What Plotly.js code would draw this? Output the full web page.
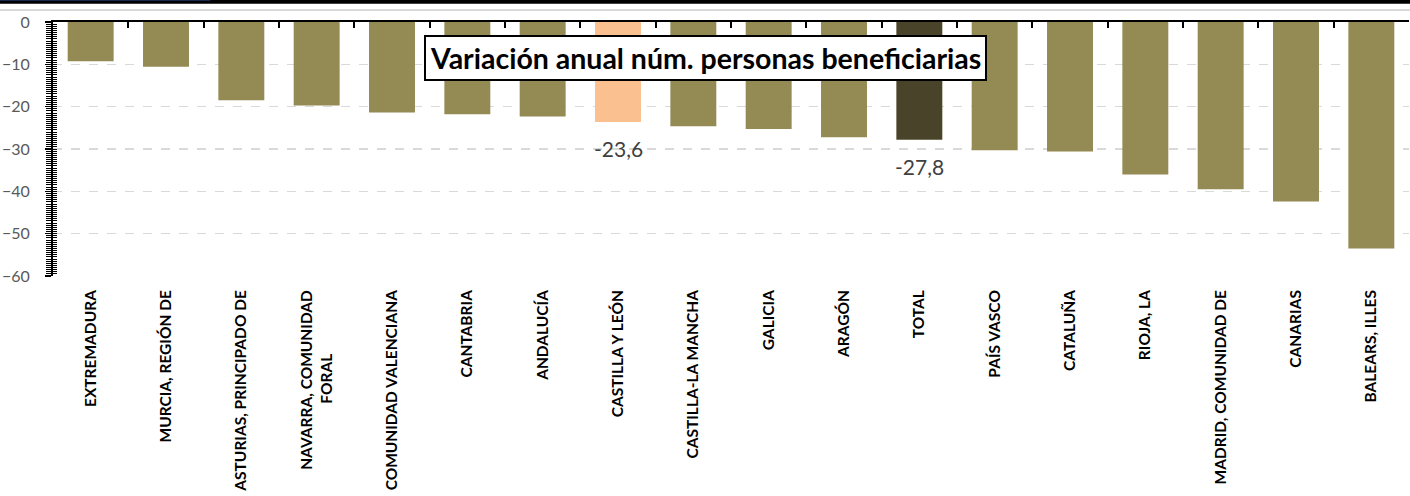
<!DOCTYPE html>
<html>
<head>
<meta charset="utf-8">
<script src="https://cdn.plot.ly/plotly-3.0.1.min.js"></script>
<style>
  html, body { margin: 0; padding: 0; background: #ffffff; }
  #chart { width: 1410px; height: 496px; }
</style>
</head>
<body>
<div id="chart"></div>
<script>
const categories = [
  "EXTREMADURA", "MURCIA, REGIÓN DE", "ASTURIAS, PRINCIPADO DE",
  "NAVARRA, COMUNIDAD<br>FORAL" + "&nbsp;".repeat(17), "COMUNIDAD VALENCIANA", "CANTABRIA",
  "ANDALUCÍA", "CASTILLA Y LEÓN", "CASTILLA-LA MANCHA", "GALICIA",
  "ARAGÓN", "TOTAL", "PAÍS VASCO", "CATALUÑA", "RIOJA, LA",
  "MADRID, COMUNIDAD DE", "CANARIAS", "BALEARS, ILLES"
];
const variation = [
  -9.3, -10.6, -18.5, -19.7, -21.4, -21.8,
  -22.3, -23.6, -24.6, -25.3,
  -27.2, -27.8, -30.3, -30.6, -36.0,
  -39.5, -42.4, -53.5
];
const labelledCategories = ["CASTILLA Y LEÓN", "TOTAL"];
const yTicks = [0, -10, -20, -30, -40, -50, -60];

const OLIVE = "#948A54", PEACH = "#FAC090", DARK = "#494429";
const barColors = categories.map(c =>
  c === "TOTAL" ? DARK : (c === "CASTILLA Y LEÓN" ? PEACH : OLIVE));

const annotations = categories
  .map((c, i) => ({c, i}))
  .filter(o => labelledCategories.includes(o.c))
  .map(o => ({
    x: o.c, y: variation[o.i], xref: "x", yref: "y",
    text: variation[o.i].toFixed(1).replace(".", ","),
    showarrow: false, yanchor: "top", yshift: -12,
    font: {family: "Lato, 'Open Sans', sans-serif", size: 21, color: "#404040"}
  }));

annotations.push({
  xref: "paper", yref: "paper", x: 0.481, y: 0.86,
  text: "<b>Variación anual núm. personas beneficiarias</b>",
  showarrow: false, xanchor: "center", yanchor: "middle",
  bgcolor: "#ffffff", bordercolor: "#000000", borderwidth: 2, borderpad: 4,
  font: {family: "Lato, 'Open Sans', sans-serif", size: 28.5, color: "#000000"}
});

const trace = {
  type: "bar", x: categories, y: variation,
  marker: {color: barColors, line: {width: 0}},
  hoverinfo: "x+y", showlegend: false
};
const ghost = {
  type: "bar", x: categories, y: variation, xaxis: "x2", yaxis: "y2",
  marker: {color: "rgba(0,0,0,0)"}, hoverinfo: "skip", showlegend: false
};

const layout = {
  width: 1410, height: 496,
  margin: {l: 53, r: 1, t: 22, b: 220, autoexpand: false},
  paper_bgcolor: "#ffffff", plot_bgcolor: "#ffffff",
  bargap: 0.39,
  xaxis: {
    type: "category", automargin: false,
    tickangle: -90, ticks: "", showline: false, showgrid: false,
    ticklabelstandoff: 10,
    tickfont: {family: "Lato, 'Open Sans', sans-serif", size: 15.5, color: "#000000", weight: "bold"}
  },
  xaxis2: {
    type: "category", overlaying: "x", matches: "x", side: "top", anchor: "y2",
    showticklabels: false, ticks: "inside", ticklen: 6, tickwidth: 2, tickcolor: "#000000",
    tickson: "boundaries", showline: true, linecolor: "#000000", linewidth: 2, showgrid: false
  },
  yaxis: {
    range: [-60, 0], tickvals: yTicks, automargin: false,
    ticks: "outside", ticklen: 6, tickwidth: 1.5, tickcolor: "#000000",
    minor: {dtick: 0.5, ticks: "outside", ticklen: 5, tickwidth: 1, tickcolor: "#000000", showgrid: false},
    showline: true, linecolor: "#000000", linewidth: 2,
    showgrid: true, gridcolor: "#D9D9D9", griddash: "dash", gridwidth: 1.3,
    zeroline: false, ticklabelstandoff: 12,
    tickfont: {family: "Lato, 'Open Sans', sans-serif", size: 16, color: "#595959"}
  },
  yaxis2: {
    range: [-60, 0], overlaying: "y", anchor: "x2", side: "left",
    showticklabels: false, ticks: "inside", ticklen: 4, tickwidth: 1, tickcolor: "#000000",
    tickvals: yTicks,
    minor: {dtick: 0.5, ticks: "inside", ticklen: 4, tickwidth: 1, tickcolor: "#000000", showgrid: false},
    showgrid: false, zeroline: false, showline: false
  },
  shapes: [
    {type: "rect", xref: "paper", yref: "paper", x0: -0.05, x1: 1.01, y0: 1.072, y1: 1.09,
     fillcolor: "#000000", line: {width: 0}, layer: "above"},
    {type: "rect", xref: "paper", yref: "paper", x0: -0.05, x1: 0.116, y0: 1.084, y1: 1.09,
     fillcolor: "#1F3864", line: {width: 0}, layer: "above"},
    {type: "line", xref: "paper", yref: "paper", x0: -0.05, x1: 1.01, y0: 1.047, y1: 1.047,
     line: {color: "#D9D9D9", width: 2}, layer: "above"}
  ],
  annotations: annotations
};

Plotly.newPlot("chart", [trace, ghost], layout, {displayModeBar: false, staticPlot: true});
</script>
</body>
</html>
